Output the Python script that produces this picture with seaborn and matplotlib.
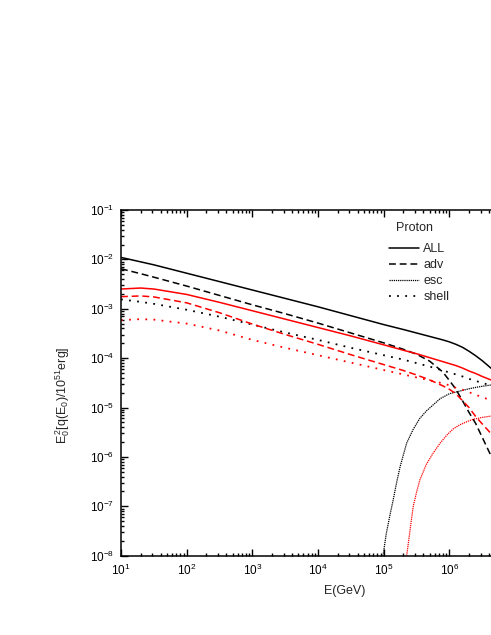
import numpy as np
import pandas as pd
import matplotlib
matplotlib.use("Agg")
import matplotlib.pyplot as plt
from matplotlib.lines import Line2D
from matplotlib.ticker import LogLocator, NullFormatter, FixedLocator, LogFormatterSciNotation
import seaborn as sns

# ---------------- data (log10 values) ----------------
logE = [1.0, 1.3, 1.5, 2.0, 2.5, 3.0, 3.5, 4.0, 4.5, 5.0, 5.3, 5.5, 5.7,
        5.9, 6.0, 6.1, 6.2, 6.3, 6.4, 6.5, 6.65]

all_black = [-1.96, -2.05, -2.11, -2.28, -2.45, -2.62, -2.79, -2.96, -3.14, -3.32,
             -3.42, -3.49, -3.56, -3.63, -3.67, -3.72, -3.78, -3.86, -3.95, -4.05, -4.22]
adv_black = [-2.19, -2.29, -2.36, -2.54, -2.73, -2.92, -3.10, -3.29, -3.49, -3.69,
             -3.82, -3.92, -4.06, -4.28, -4.45, -4.63, -4.86, -5.10, -5.32, -5.60, -6.02]
shell_black = [-2.81, -2.86, -2.90, -3.02, -3.16, -3.32, -3.48, -3.63, -3.79, -3.94,
               -4.03, -4.10, -4.17, -4.25, -4.29, -4.33, -4.37, -4.42, -4.46, -4.50, -4.56]

all_red = [-2.60, -2.58, -2.60, -2.71, -2.87, -3.04, -3.21, -3.38, -3.55, -3.73,
           -3.84, -3.91, -3.99, -4.07, -4.11, -4.15, -4.20, -4.26, -4.31, -4.37, -4.45]
adv_red = [-2.755, -2.74, -2.76, -2.88, -3.08, -3.31, -3.52, -3.72, -3.93, -4.13,
           -4.25, -4.34, -4.44, -4.56, -4.63, -4.72, -4.86, -5.00, -5.18, -5.33, -5.55]
shell_red = [-3.23, -3.21, -3.22, -3.30, -3.44, -3.63, -3.79, -3.94, -4.09, -4.24,
             -4.33, -4.39, -4.45, -4.51, -4.55, -4.60, -4.64, -4.69, -4.74, -4.79, -4.86]

esc_black_logE = [4.99, 5.04, 5.10, 5.145, 5.20, 5.25, 5.35, 5.45, 5.55, 5.65,
                  5.75, 5.86, 6.00, 6.15, 6.30, 6.45, 6.65]
esc_black = [-8.0, -7.55, -7.15, -6.87, -6.50, -6.20, -5.72, -5.44, -5.22, -5.07,
             -4.95, -4.82, -4.72, -4.67, -4.62, -4.58, -4.54]

esc_red_logE = [5.35, 5.40, 5.45, 5.50, 5.55, 5.65, 5.75, 5.86, 5.96, 6.06,
                6.16, 6.26, 6.36, 6.50, 6.65]
esc_red = [-8.0, -7.50, -7.00, -6.72, -6.47, -6.15, -5.93, -5.72, -5.56, -5.43,
           -5.35, -5.29, -5.24, -5.20, -5.17]

x_major = [1e1, 1e2, 1e3, 1e4, 1e5, 1e6]
legend_title = "Proton"
legend_labels = ["ALL", "adv", "esc", "shell"]

# ---------------- style ----------------
sns.set_style("ticks")
plt.rcParams["font.family"] = ["Liberation Sans", "DejaVu Sans"]
plt.rcParams["mathtext.fontset"] = "custom"
plt.rcParams["mathtext.rm"] = "Liberation Sans"
plt.rcParams["mathtext.it"] = "Liberation Sans:italic"
plt.rcParams["mathtext.bf"] = "Liberation Sans:bold"
plt.rcParams["axes.unicode_minus"] = False

fig = plt.figure(figsize=(4.91, 6.35), dpi=100)
ax = fig.add_axes([121 / 491, 79.3 / 635, 394 / 491, 345.7 / 635])

LW = 1.1
styles = {
    "ALL": dict(linestyle="-", linewidth=LW),
    "adv": dict(linestyle=(0, (4.5, 2.5)), linewidth=LW),
    "esc": dict(linestyle=(0, (1.0, 0.7)), linewidth=0.9),
    "shell": dict(linestyle=(0, (1.0, 3.5)), linewidth=1.3),
}

def draw(xs, ys, color, kind):
    df = pd.DataFrame({"E": 10 ** np.array(xs, dtype=float),
                       "q": 10 ** np.array(ys, dtype=float)})
    sns.lineplot(data=df, x="E", y="q", ax=ax, color=color, sort=False,
                 errorbar=None, estimator=None, **styles[kind])

draw(logE, all_black, "black", "ALL")
draw(logE, adv_black, "black", "adv")
draw(logE, shell_black, "black", "shell")
draw(esc_black_logE, esc_black, "black", "esc")
draw(logE, all_red, "red", "ALL")
draw(logE, adv_red, "red", "adv")
draw(logE, shell_red, "red", "shell")
draw(esc_red_logE, esc_red, "red", "esc")

ax.set_xscale("log")
ax.set_yscale("log")
ax.set_xlim(10, 1e7)
ax.set_ylim(1e-8, 1e-1)

ax.xaxis.set_major_locator(FixedLocator(x_major))
ax.xaxis.set_major_formatter(LogFormatterSciNotation())
ax.xaxis.set_minor_locator(LogLocator(base=10, subs=np.arange(2, 10), numticks=100))
ax.yaxis.set_major_locator(LogLocator(base=10, numticks=20))
ax.yaxis.set_minor_locator(LogLocator(base=10, subs=np.arange(2, 10), numticks=100))
ax.xaxis.set_minor_formatter(NullFormatter())
ax.yaxis.set_minor_formatter(NullFormatter())

ax.tick_params(which="both", direction="in", top=True, right=True, width=1.0,
               labelsize=8.5, colors="black")
ax.tick_params(which="major", length=5, pad=5)
ax.tick_params(which="minor", length=2.5)
for s in ax.spines.values():
    s.set_linewidth(1.1)
    s.set_color("black")

ax.set_xlabel("E(GeV)", fontsize=9)
ax.xaxis.set_label_coords((345 - 121) / 394, -0.085)
ax.set_ylabel(r"$\mathregular{E_0^{\,2}[q(E_0)/10^{51}erg]}$", fontsize=9)
ax.yaxis.set_label_coords((72 - 121) / 394, (555.7 - 395) / 345.7)

handles = [Line2D([], [], color="black", **styles[k]) for k in legend_labels]
leg = ax.legend(handles, legend_labels, frameon=False,
                fontsize=9, handlelength=2.4, handletextpad=0.35,
                labelspacing=0.33, loc="upper left", borderaxespad=0, borderpad=0,
                bbox_to_anchor=((389 - 121) / 394, 1 - (243 - 210) / 345.7))
ax.text((396 - 121) / 394, 1 - (228 - 210) / 345.7, legend_title, fontsize=9,
        transform=ax.transAxes, ha="left", va="center")

fig.savefig("out.png", dpi=100)
